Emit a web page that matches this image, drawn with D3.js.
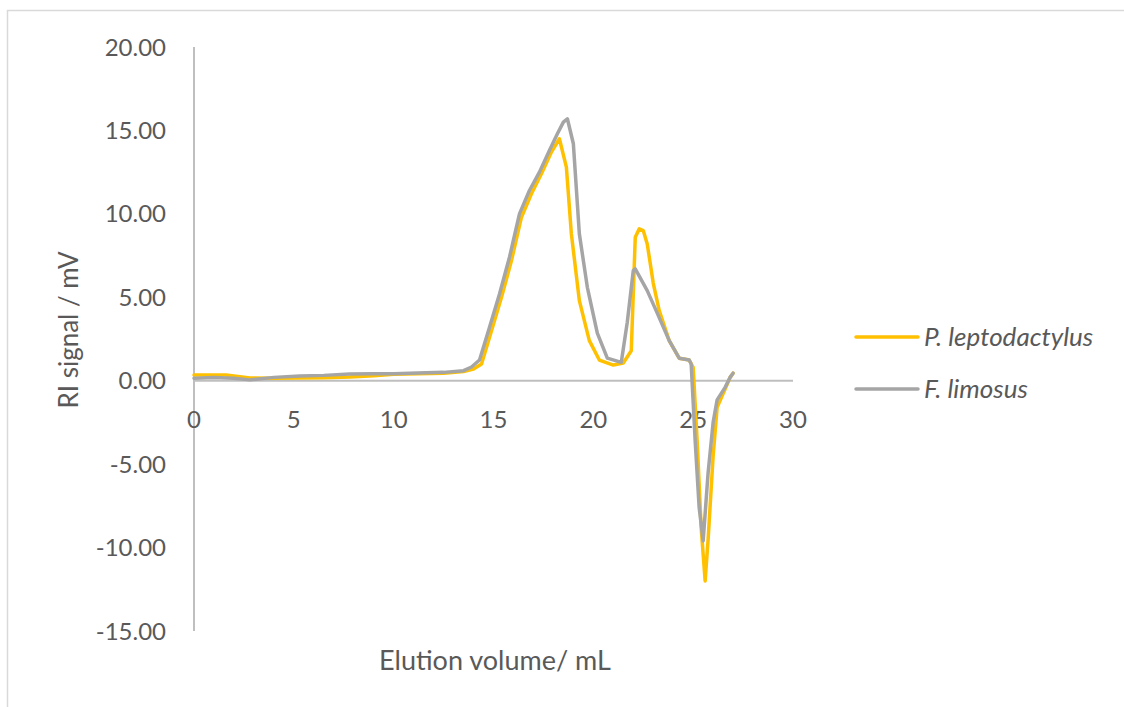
<!DOCTYPE html>
<html>
<head>
<meta charset="utf-8">
<script src="https://cdn.jsdelivr.net/npm/d3@7"></script>
<style>
  html, body { margin: 0; padding: 0; background: #fff; }
  svg text { font-family: Lato, "Open Sans", sans-serif; fill: #595959; }
</style>
</head>
<body>
<svg id="chart" width="1124" height="707"></svg>
<script>
// ---- data ----
const seriesNames = ["P. leptodactylus", "F. limosus"];
const xTicks = [0, 5, 10, 15, 20, 25, 30];
const yTicks = [-15, -10, -5, 0, 5, 10, 15, 20];

const leptoX = [0,1,1.6,2.8,4,5.3,6.5,7.8,9,10,11.2,12.5,13.5,14.0,14.4,14.9,15.4,15.9,16.4,16.9,17.4,17.9,18.3,18.65,18.9,19.3,19.8,20.3,21.0,21.5,21.9,22.1,22.3,22.5,22.7,23.0,23.3,23.8,24.3,24.8,25.0,25.2,25.4,25.6,25.75,26.0,26.2,26.6,26.85,27.0];
const leptoY = [0.34,0.34,0.34,0.16,0.15,0.16,0.18,0.22,0.3,0.38,0.42,0.45,0.55,0.7,1.0,3.0,5.0,7.2,9.8,11.2,12.4,13.7,14.5,12.8,8.8,4.8,2.4,1.24,0.94,1.06,1.8,8.6,9.1,9.0,8.2,5.85,4.2,2.4,1.35,1.24,0.8,-3.6,-8.8,-12.0,-9.5,-4.5,-1.6,-0.5,0.2,0.45];

const limosusX = [0,1,2,2.8,4,5.3,6.5,7.8,9,10,11.2,12.5,13.5,13.9,14.3,14.8,15.3,15.8,16.3,16.8,17.3,17.8,18.2,18.5,18.7,19.0,19.3,19.7,20.2,20.7,21.4,21.7,22.0,22.1,22.7,23.2,23.8,24.3,24.8,24.9,25.1,25.3,25.5,25.75,26.0,26.2,26.6,26.85,27.0];
const limosusY = [0.15,0.2,0.15,0.05,0.2,0.28,0.32,0.4,0.42,0.42,0.46,0.5,0.6,0.82,1.24,3.2,5.2,7.4,10.0,11.4,12.5,13.8,14.8,15.5,15.7,14.2,8.8,5.6,2.85,1.35,1.1,3.5,6.6,6.7,5.4,4.05,2.4,1.35,1.24,1.0,-3.6,-7.6,-9.6,-5.5,-2.5,-1.15,-0.4,0.2,0.45];

const colors = ["#FFC000", "#A5A5A5"];

// ---- chart ----
const svg = d3.select("#chart");
svg.append("rect").attr("x", 7.5).attr("y", 10.5).attr("width", 1140).attr("height", 720)
   .attr("fill", "none").attr("stroke", "#d9d9d9").attr("stroke-width", 1.5);

const x = d3.scaleLinear().domain([0, 30]).range([194, 793]);
const y = d3.scaleLinear().domain([-15, 20]).range([631, 47]);

// y axis line
svg.append("line").attr("x1", x(0)).attr("x2", x(0)).attr("y1", y(20)).attr("y2", y(-15))
   .attr("stroke", "#bfbfbf").attr("stroke-width", 2);
// x axis line at y=0
svg.append("line").attr("x1", x(0)).attr("x2", x(30)).attr("y1", y(0)).attr("y2", y(0))
   .attr("stroke", "#bfbfbf").attr("stroke-width", 2);

// y tick labels
svg.append("g").selectAll("text").data(yTicks).join("text")
  .attr("x", 166).attr("y", d => y(d)).attr("dy", "0.36em")
  .attr("text-anchor", "end").attr("font-size", 24)
  .text(d => d.toFixed(2));

// x tick labels
svg.append("g").selectAll("text").data(xTicks).join("text")
  .attr("x", d => x(d)).attr("y", y(0) + 47)
  .attr("text-anchor", "middle").attr("font-size", 24)
  .text(d => d);

// lines
const line = d3.line().x(d => x(d[0])).y(d => y(d[1]));
const seriesData = [
  d3.zip(leptoX, leptoY),
  d3.zip(limosusX, limosusY)
];
seriesData.forEach((pts, i) => {
  svg.append("path").datum(pts).attr("d", line)
     .attr("fill", "none").attr("stroke", colors[i]).attr("stroke-width", 3.5)
     .attr("stroke-linejoin", "round").attr("stroke-linecap", "round");
});

// axis titles
svg.append("text").attr("x", 495).attr("y", 670).attr("text-anchor", "middle")
   .attr("font-size", 27).text("Elution volume/ mL");
svg.append("text").attr("transform", "translate(78,330) rotate(-90)").attr("text-anchor", "middle")
   .attr("font-size", 26).text("RI signal / mV");

// legend
const legY = [337, 389];
seriesNames.forEach((name, i) => {
  svg.append("line").attr("x1", 856).attr("x2", 918).attr("y1", legY[i]).attr("y2", legY[i])
     .attr("stroke", colors[i]).attr("stroke-width", 3.5).attr("stroke-linecap", "round");
  svg.append("text").attr("x", 924).attr("y", legY[i]).attr("dy", "0.36em")
     .attr("font-size", 26).attr("font-style", "italic").text(name);
});
</script>
</body>
</html>
